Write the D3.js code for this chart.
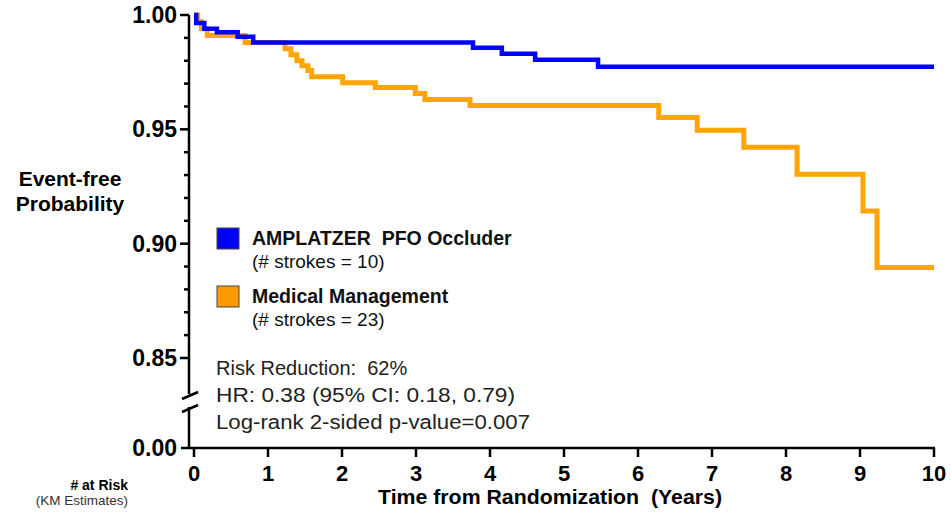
<!DOCTYPE html>
<html>
<head>
<meta charset="utf-8">
<script src="https://cdn.jsdelivr.net/npm/d3@7"></script>
<style>
  body { margin: 0; background: #fff; }
  svg { font-family: Arial, "Liberation Sans", sans-serif; }
</style>
</head>
<body>
<svg width="951" height="514"></svg>
<script>
// Kaplan-Meier steps
var occluderTimes = [0, 0.03, 0.14, 0.31, 0.59, 0.80, 3.77, 4.16, 4.61, 5.46, 10];
var occluderSurv  = [1.000, 0.9965, 0.994, 0.9925, 0.9905, 0.988, 0.9857, 0.983, 0.9804, 0.9774, 0.9774];

var medicalTimes = [0, 0.05, 0.10, 0.18, 0.69, 1.23, 1.31, 1.39, 1.46, 1.54, 1.59, 2.01, 2.45, 2.99, 3.12, 3.73, 6.28, 6.80, 7.43, 8.15, 9.04, 9.23, 10];
var medicalSurv  = [1.000, 0.997, 0.994, 0.991, 0.988, 0.9852, 0.9826, 0.980, 0.9778, 0.9757, 0.973, 0.9704, 0.9683, 0.9657, 0.963, 0.9604, 0.9552, 0.9496, 0.9422, 0.9304, 0.9143, 0.8896, 0.8896];

var xTicks = [0, 1, 2, 3, 4, 5, 6, 7, 8, 9, 10];
var yMajor = [0.85, 0.90, 0.95, 1.00];
var yTickLabels = ["0.85", "0.90", "0.95", "1.00"];
var yMinor = [0.86, 0.87, 0.88, 0.89, 0.91, 0.92, 0.93, 0.94, 0.96, 0.97, 0.98, 0.99];

var legendNames = ["AMPLATZER  PFO Occluder", "Medical Management"];
var legendCounts = ["(# strokes = 10)", "(# strokes = 23)"];
var statLines = ["Risk Reduction:  62%", "HR: 0.38 (95% CI: 0.18, 0.79)", "Log-rank 2-sided p-value=0.007"];
var statWidths = [null, 299, 314];

var svg = d3.select("svg");
var axisX = 189, baseY = 448;

var x = d3.scaleLinear().domain([0, 10]).range([194, 934]);
var y = d3.scaleLinear().domain([0.85, 1]).range([358, 15]);

var line = d3.line()
  .x(function(d){ return x(d[0]); })
  .y(function(d){ return y(d[1]); })
  .curve(d3.curveStepAfter);

// curves
svg.append("path")
  .datum(d3.zip(medicalTimes, medicalSurv))
  .attr("d", line)
  .attr("fill", "none")
  .attr("stroke", "#FFA500")
  .attr("stroke-width", 5);

svg.append("path")
  .datum(d3.zip(occluderTimes, occluderSurv))
  .attr("d", line)
  .attr("fill", "none")
  .attr("stroke", "#0000FF")
  .attr("stroke-width", 4.5);

// y axis (upper part, broken)
var ax = svg.append("g").attr("stroke", "#000").attr("stroke-width", 2.5);
ax.append("line").attr("x1", axisX).attr("x2", axisX).attr("y1", y(1)).attr("y2", 394);
ax.append("line").attr("x1", axisX).attr("x2", axisX).attr("y1", 407).attr("y2", baseY);
ax.append("line").attr("x1", 182).attr("x2", 198).attr("y1", 399).attr("y2", 392);
ax.append("line").attr("x1", 182).attr("x2", 198).attr("y1", 412).attr("y2", 405);

ax.selectAll(".major").data(yMajor).enter().append("line")
  .attr("x1", axisX - 9).attr("x2", axisX)
  .attr("y1", function(d){ return y(d); }).attr("y2", function(d){ return y(d); });
ax.selectAll(".minor").data(yMinor).enter().append("line")
  .attr("x1", axisX - 5).attr("x2", axisX)
  .attr("y1", function(d){ return y(d); }).attr("y2", function(d){ return y(d); });

// 0.00 tick and x axis
ax.append("line").attr("x1", 181).attr("x2", 935).attr("y1", baseY).attr("y2", baseY);
ax.selectAll(".xt").data(xTicks).enter().append("line")
  .attr("x1", function(d){ return x(d); }).attr("x2", function(d){ return x(d); })
  .attr("y1", baseY).attr("y2", baseY + 9);

svg.selectAll(".ylab").data(yMajor).enter().append("text")
  .text(function(d, i){ return yTickLabels[i]; })
  .attr("x", 177).attr("y", function(d){ return y(d) + 8; })
  .attr("text-anchor", "end")
  .style("font-size", "23px").style("font-weight", "bold");
svg.append("text").text("0.00")
  .attr("x", 177).attr("y", baseY + 8)
  .attr("text-anchor", "end")
  .style("font-size", "23px").style("font-weight", "bold");

svg.selectAll(".xlab").data(xTicks).enter().append("text")
  .text(function(d){ return d; })
  .attr("x", function(d){ return x(d); }).attr("y", 481)
  .attr("text-anchor", "middle")
  .style("font-size", "22px").style("font-weight", "bold");

svg.append("text").text("Time from Randomization  (Years)")
  .attr("x", 378).attr("y", 504)
  .attr("xml:space", "preserve").style("white-space", "pre")
  .attr("textLength", 344).attr("lengthAdjust", "spacingAndGlyphs")
  .style("font-size", "20px").style("font-weight", "bold");

svg.append("text").text("Event-free")
  .attr("x", 70).attr("y", 186).attr("text-anchor", "middle")
  .style("font-size", "21px").style("font-weight", "bold");
svg.append("text").text("Probability")
  .attr("x", 70).attr("y", 211).attr("text-anchor", "middle")
  .style("font-size", "21px").style("font-weight", "bold");

svg.append("text").text("# at Risk")
  .attr("x", 128).attr("y", 490).attr("text-anchor", "end")
  .style("font-size", "14px").style("font-weight", "bold");
svg.append("text").text("(KM Estimates)")
  .attr("x", 128).attr("y", 505).attr("text-anchor", "end")
  .style("font-size", "13.5px").attr("fill", "#333");

// legend
var legColors = ["#0000FF", "#FF9900"];
var leg = svg.selectAll(".leg").data(legendNames).enter().append("g")
  .attr("transform", function(d, i){ return "translate(217," + (228 + i * 58) + ")"; });
leg.append("rect").attr("width", 22).attr("height", 21)
  .attr("fill", function(d, i){ return legColors[i]; })
  .attr("stroke", "#444").attr("stroke-width", 1);
leg.append("text").text(function(d){ return d; })
  .attr("x", 35).attr("y", 17)
  .attr("xml:space", "preserve").style("white-space", "pre")
  .style("font-size", "19.5px").style("font-weight", "bold").attr("fill", "#111");
leg.append("text").text(function(d, i){ return legendCounts[i]; })
  .attr("x", 35).attr("y", 40)
  .style("font-size", "19px").attr("fill", "#111");

// stats
svg.selectAll(".stat").data(statLines).enter().append("text")
  .text(function(d){ return d; })
  .attr("x", 216).attr("y", function(d, i){ return 375 + i * 27; })
  .attr("xml:space", "preserve").style("white-space", "pre")
  .attr("textLength", function(d, i){ return statWidths[i]; })
  .attr("lengthAdjust", "spacingAndGlyphs")
  .style("font-size", "20px").attr("fill", "#222");
</script>
</body>
</html>
